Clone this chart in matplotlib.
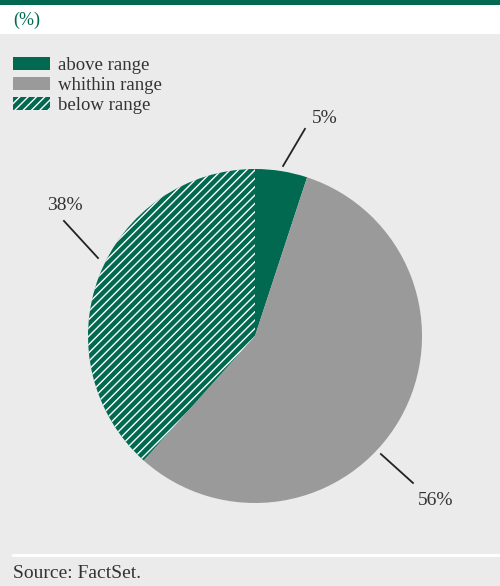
import matplotlib.pyplot as plt
from matplotlib.patches import Rectangle, Patch

# Share of estimates relative to the target range
categories = ['above range', 'whithin range', 'below range']
shares = [5, 56, 38]
label_texts = ['5%', '56%', '38%']

GREEN = '#00694f'
GREY = '#9a9a9a'
PANEL = '#ebebeb'
TEXT = '#333333'

plt.rcParams['font.family'] = ['Liberation Serif', 'DejaVu Serif']
plt.rcParams['hatch.linewidth'] = 1.0

fig = plt.figure(figsize=(5.0, 5.86), dpi=100)
fig.patch.set_facecolor(PANEL)

# header: green bar and white band with the unit
fig.add_artist(Rectangle((0, 1 - 34 / 586), 1, 34 / 586, transform=fig.transFigure,
                         facecolor='white', edgecolor='none'))
fig.add_artist(Rectangle((0, 1 - 5 / 586), 1, 5 / 586, transform=fig.transFigure,
                         facecolor=GREEN, edgecolor='none'))
fig.text(13 / 500, 1 - 20 / 586, '(%)', color=GREEN, fontsize=13, va='center', ha='left')

# footer rule and source
fig.add_artist(plt.Line2D([13 / 500, 1], [1 - 555 / 586] * 2, transform=fig.transFigure,
                          color='white', linewidth=2))
fig.text(13 / 500, 1 - 573 / 586, 'Source: FactSet.', color=TEXT, fontsize=14,
         va='center', ha='left')

# pie
R_PX = 167
ax = fig.add_axes([(255 - R_PX) / 500, (586 - 336 - R_PX) / 586, 2 * R_PX / 500, 2 * R_PX / 586])
ax.set_facecolor('none')
wedges, _ = ax.pie(shares, colors=[GREEN, GREY, GREEN], startangle=90, counterclock=False,
                   radius=1, wedgeprops=dict(linewidth=0))
wedges[2].set_hatch('////')
wedges[2].set_edgecolor('white')
wedges[2].set_linewidth(0)
ax.set_xlim(-1, 1)
ax.set_ylim(-1, 1)
ax.set_aspect('equal')
ax.axis('off')

# leader lines (start, end) and label centres, in pie-radius units
leader_lines = [((0.168, 1.018), (0.299, 1.240)),
                ((0.754, -0.707), (0.946, -0.880)),
                ((-0.940, 0.467), (-1.144, 0.689))]
label_pos = [(0.419, 1.305), (1.084, -0.988), (-1.141, 0.784)]
for text, (p0, p1), (lx, ly) in zip(label_texts, leader_lines, label_pos):
    ax.plot([p0[0], p1[0]], [p0[1], p1[1]], color='#222222', linewidth=1.3, clip_on=False)
    ax.text(lx, ly, text, ha='center', va='center', fontsize=14, color=TEXT, clip_on=False)

# legend
handles = [Patch(facecolor=GREEN, edgecolor='none'),
           Patch(facecolor=GREY, edgecolor='none'),
           Patch(facecolor=GREEN, edgecolor='white', linewidth=0, hatch='////')]
fig.legend(handles, categories, loc='upper left', bbox_to_anchor=(13 / 500, 1 - 57 / 586),
           frameon=False, fontsize=13.5, handlelength=1.97, handleheight=0.64,
           handletextpad=0.43, labelspacing=0.16, borderpad=0, borderaxespad=0,
           labelcolor=TEXT)

fig.savefig('out.png', dpi=100, facecolor=fig.get_facecolor())
